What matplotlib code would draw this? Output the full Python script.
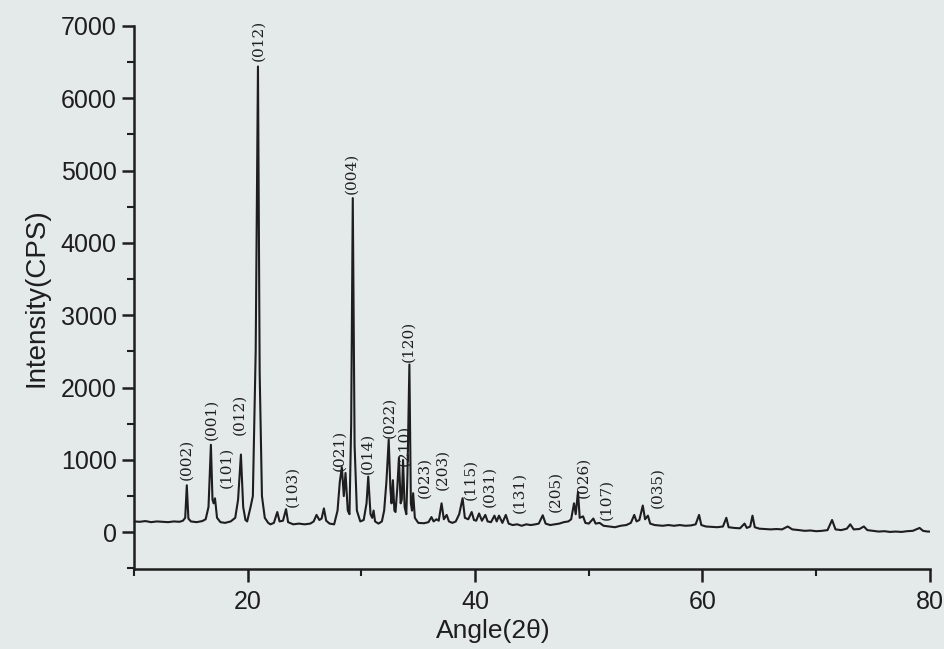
import matplotlib
import matplotlib.pyplot as plt
from matplotlib.ticker import MultipleLocator

matplotlib.use("Agg")

# XRD trace (2theta in degrees, intensity in CPS)
two_theta = [
    10.0, 10.5, 11.0, 11.5, 12.0, 12.5, 13.0, 13.5, 14.0, 14.3, 14.5, 14.64, 14.78, 15.0,
    15.5, 16.0, 16.3, 16.55, 16.76, 16.9, 17.0, 17.12, 17.3, 17.6, 18.0, 18.5, 18.9, 19.15,
    19.4, 19.6, 19.8, 19.95, 20.1, 20.25, 20.45, 20.7, 20.9, 21.05, 21.25, 21.5, 21.8, 22.0,
    22.3, 22.6, 22.8, 23.1, 23.37, 23.55, 24.0, 24.5, 25.0, 25.5, 25.8, 26.05, 26.3, 26.5,
    26.7, 26.9, 27.2, 27.6, 27.9, 28.1, 28.28, 28.45, 28.6, 28.8, 28.95, 29.1, 29.24, 29.4,
    29.6, 29.9, 30.2, 30.45, 30.6, 30.8, 30.95, 31.07, 31.2, 31.5, 31.8, 32.0, 32.2, 32.4,
    32.55, 32.65, 32.77, 32.9, 33.0, 33.15, 33.3, 33.45, 33.55, 33.66, 33.8, 33.95, 34.05,
    34.22, 34.35, 34.45, 34.55, 34.7, 35.0, 35.5, 35.9, 36.16, 36.35, 36.6, 36.8, 37.05,
    37.25, 37.5, 37.7, 38.0, 38.3, 38.6, 38.9, 39.1, 39.4, 39.7, 39.9, 40.1, 40.35, 40.6,
    40.9, 41.1, 41.4, 41.7, 41.9, 42.1, 42.4, 42.7, 42.95, 43.3, 43.7, 44.1, 44.5, 44.9,
    45.3, 45.6, 45.95, 46.2, 46.6, 47.0, 47.4, 47.8, 48.2, 48.45, 48.7, 48.85, 49.05, 49.2,
    49.5, 49.7, 50.0, 50.4, 50.6, 50.95, 51.3, 51.8, 52.3, 52.8, 53.3, 53.7, 54.0, 54.2,
    54.45, 54.75, 54.95, 55.2, 55.4, 55.8, 56.5, 57.0, 57.5, 58.0, 58.5, 59.0, 59.4, 59.7,
    59.9, 60.3, 60.8, 61.3, 61.8, 62.1, 62.3, 62.8, 63.3, 63.7, 63.9, 64.2, 64.4, 64.6,
    65.0, 65.5, 66.0, 66.5, 67.0, 67.5, 67.9, 68.5, 69.0, 69.5, 70.0, 70.5, 71.0, 71.4,
    71.7, 72.2, 72.7, 73.0, 73.3, 73.8, 74.2, 74.5, 75.0, 75.5, 76.0, 76.5, 77.0, 77.5,
    78.0, 78.5, 79.1, 79.4, 79.8, 80.0,
]
intensity = [
    150, 145, 155, 140, 150, 145, 140, 150, 145, 160, 200, 650, 190, 150,
    140, 155, 180, 350, 1210, 450, 400, 470, 200, 140, 130, 150, 200, 450,
    1075, 350, 170, 150, 250, 350, 500, 2500, 6440, 2200, 500, 200, 130, 110,
    130, 280, 150, 160, 320, 140, 110, 120, 110, 120, 150, 240, 170, 190,
    330, 160, 120, 110, 300, 700, 900, 500, 820, 300, 250, 1500, 4620, 1200,
    300, 150, 170, 400, 770, 250, 200, 300, 150, 120, 150, 300, 700, 1280,
    600, 400, 720, 300, 280, 600, 1030, 400, 450, 1000, 350, 250, 800,
    2320, 400, 300, 540, 200, 130, 125, 140, 210, 150, 180, 160, 400,
    180, 240, 150, 130, 150, 250, 470, 200, 180, 280, 170, 160, 260, 160,
    240, 150, 140, 230, 150, 230, 130, 240, 120, 100, 110, 90, 110, 100,
    110, 120, 235, 120, 100, 110, 120, 140, 150, 180, 400, 250, 560, 200,
    220, 130, 120, 190, 120, 130, 90, 80, 70, 90, 100, 130, 240, 150,
    170, 370, 180, 230, 120, 100, 90, 100, 90, 100, 90, 95, 110, 240,
    100, 80, 75, 70, 80, 200, 70, 60, 55, 120, 60, 80, 230, 70,
    50, 45, 40, 45, 40, 80, 40, 30, 20, 25, 15, 20, 30, 170,
    40, 30, 50, 110, 40, 45, 80, 30, 20, 10, 15, 5, 10, 5,
    15, 20, 60, 20, 10, 10,
]

# Miller index labels: text, 2theta position, intensity at the bottom of the text
hkl_labels = ["(002)", "(001)", "(101)", "(012)", "(012)", "(103)", "(021)", "(004)",
              "(014)", "(022)", "(210)", "(120)", "(023)", "(203)", "(115)", "(031)",
              "(131)", "(205)", "(026)", "(107)", "(035)"]
hkl_theta = [14.64, 16.8, 18.1, 19.3, 20.95, 23.9, 28.1, 29.1,
             30.5, 32.45, 33.75, 34.1, 35.55, 37.15, 39.55, 41.3,
             43.9, 47.1, 49.5, 51.55, 56.05]
hkl_height = [720, 1270, 610, 1340, 6520, 345, 850, 4680,
              800, 1300, 920, 2350, 470, 580, 440, 345,
              260, 275, 470, 165, 330]

paper = "#e4e9ea"
ink = "#1e1e1e"

plt.rcParams["font.family"] = ["Liberation Sans", "DejaVu Sans"]

fig = plt.figure(figsize=(9.44, 6.49), dpi=100, facecolor=paper)
ax = fig.add_axes([0.142, 0.123, 0.843, 0.837], facecolor=paper)

ax.plot(two_theta, intensity, color=ink, linewidth=1.5)

for text, x, y in zip(hkl_labels, hkl_theta, hkl_height):
    ax.text(x, y, text, rotation=90, ha="center", va="bottom",
            fontsize=11, family="DejaVu Serif", color=ink)

ax.set_xlim(10, 80)
ax.set_ylim(-510, 7000)
ax.xaxis.set_major_locator(MultipleLocator(20))
ax.xaxis.set_minor_locator(MultipleLocator(10))
ax.yaxis.set_major_locator(MultipleLocator(1000))
ax.yaxis.set_minor_locator(MultipleLocator(500))

for side in ["top", "right"]:
    ax.spines[side].set_visible(False)
for side in ["left", "bottom"]:
    ax.spines[side].set_linewidth(1.8)
    ax.spines[side].set_color(ink)

ax.tick_params(which="major", length=9, width=1.8, labelsize=18, colors=ink)
ax.tick_params(axis="x", which="major", pad=6)
ax.tick_params(which="minor", length=5, width=1.5, colors=ink)

ax.set_xlabel("Angle(2θ)", fontsize=19, color=ink)
ax.xaxis.set_label_coords(0.452, -0.092)
ax.set_ylabel("Intensity(CPS)", fontsize=20, color=ink, labelpad=8)

fig.savefig("out.png", dpi=100, facecolor=paper)
